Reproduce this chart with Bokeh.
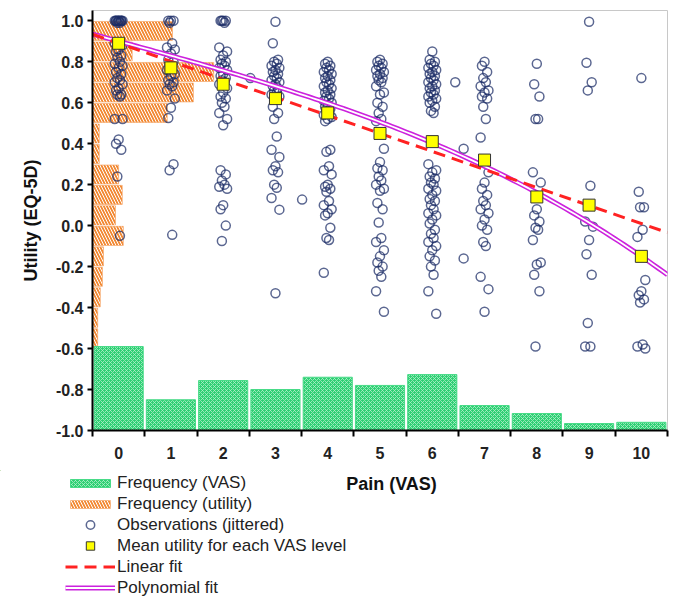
from bokeh.plotting import figure
from bokeh.layouts import column, row
from bokeh.models import (FixedTicker, PrintfTickFormatter, Legend, LegendItem,
                          ColumnDataSource, Range1d, Label)
from bokeh.embed import file_html
from bokeh.resources import INLINE
import numpy as np

# ---------------- data ----------------
vas_levels = [0, 1, 2, 3, 4, 5, 6, 7, 8, 9, 10]
# VAS frequency bars, drawn upward from utility = -1.0 (height in utility units)
vas_freq = [0.41, 0.15, 0.244, 0.20, 0.26, 0.22, 0.273, 0.122, 0.083, 0.034, 0.04]

# utility histogram bins (centres) and their bar lengths (in VAS units from the left edge)
util_bins = [0.95, 0.85, 0.75, 0.65, 0.55, 0.45, 0.35, 0.25, 0.15, 0.05,
             -0.05, -0.15, -0.25, -0.35, -0.45, -0.55]
util_freq = [1.53, 0.76, 2.32, 1.93, 1.43, 0.13, 0.13, 0.50, 0.57, 0.44,
             0.59, 0.21, 0.19, 0.15, 0.10, 0.10]

mean_utility = [0.89, 0.77, 0.69, 0.62, 0.55, 0.45, 0.41, 0.32, 0.14, 0.10, -0.15]

linear_coef = [0.89, -0.088]                    # intercept, slope
poly_coef = [0.90, -0.070, 0.0, -0.00035]       # a + b x + c x^2 + d x^3

obs_0 = [1.0, 1.0, 1.0, 1.0, 1.0, 1.0, 1.0, 1.0, 1.0, 1.0, 0.99, 0.99,
         0.89, 0.88, 0.86, 0.85, 0.83, 0.82, 0.80, 0.79, 0.78, 0.77, 0.75, 0.74,
         0.72, 0.71, 0.70, 0.69, 0.67, 0.66, 0.64, 0.64, 0.63, 0.52, 0.52, 0.42,
         0.40, 0.37, 0.24, -0.05]
obs_1 = [1.0, 1.0, 1.0, 0.99, 0.89, 0.87, 0.86, 0.84, 0.81, 0.80, 0.78, 0.77,
         0.76, 0.74, 0.73, 0.71, 0.70, 0.69, 0.68, 0.66, 0.62, 0.575, 0.525,
         0.30, 0.27, -0.045]
obs_2 = [1.0, 1.0, 1.0, 1.0, 0.99, 0.87, 0.85, 0.83, 0.81, 0.80, 0.79, 0.78,
         0.77, 0.76, 0.74, 0.73, 0.72, 0.71, 0.70, 0.69, 0.67, 0.65, 0.63, 0.62,
         0.60, 0.58, 0.55, 0.52, 0.49, 0.27, 0.25, 0.22, 0.20, 0.19, 0.18, 0.10,
         0.08, 0.0, -0.075]
obs_3 = [0.995, 0.89, 0.81, 0.80, 0.79, 0.78, 0.77, 0.76, 0.75, 0.74, 0.73,
         0.72, 0.71, 0.70, 0.69, 0.68, 0.67, 0.66, 0.65, 0.64, 0.63, 0.62, 0.58,
         0.55, 0.52, 0.435, 0.37, 0.335, 0.29, 0.27, 0.26, 0.20, 0.185, 0.135,
         0.078, -0.33]
obs_4 = [0.80, 0.79, 0.78, 0.77, 0.76, 0.75, 0.74, 0.73, 0.72, 0.71, 0.70,
         0.69, 0.68, 0.67, 0.66, 0.65, 0.64, 0.63, 0.62, 0.61, 0.60, 0.59, 0.58,
         0.57, 0.56, 0.55, 0.54, 0.53, 0.52, 0.51, 0.37, 0.36, 0.29, 0.27, 0.25,
         0.20, 0.19, 0.18, 0.165, 0.12, 0.10, 0.08, 0.06, 0.05, -0.01, -0.06,
         -0.07, -0.23]
obs_5 = [0.81, 0.80, 0.79, 0.78, 0.77, 0.76, 0.75, 0.74, 0.73, 0.72, 0.71,
         0.70, 0.68, 0.65, 0.64, 0.60, 0.58, 0.55, 0.52, 0.51, 0.375, 0.31,
         0.28, 0.27, 0.24, 0.22, 0.20, 0.18, 0.17, 0.11, 0.08, 0.015, -0.06,
         -0.08, -0.12, -0.15, -0.18, -0.20, -0.22, -0.25, -0.32, -0.42]
obs_6 = [0.85, 0.81, 0.80, 0.79, 0.78, 0.77, 0.76, 0.75, 0.74, 0.73, 0.72,
         0.71, 0.70, 0.69, 0.68, 0.67, 0.66, 0.65, 0.64, 0.63, 0.62, 0.61, 0.60,
         0.58, 0.56, 0.55, 0.30, 0.27, 0.26, 0.24, 0.23, 0.21, 0.20, 0.18, 0.17,
         0.15, 0.13, 0.12, 0.10, 0.08, 0.06, 0.05, 0.03, 0.01, -0.02, -0.04,
         -0.06, -0.08, -0.10, -0.12, -0.15, -0.17, -0.20, -0.24, -0.32, -0.43]
obs_7 = [0.80, 0.78, 0.75, 0.72, 0.70, 0.68, 0.66, 0.65, 0.63, 0.62, 0.58,
         0.52, 0.43, 0.26, 0.21, 0.18, 0.15, 0.12, 0.10, 0.08, 0.06, 0.03, 0.0,
         -0.02, -0.08, -0.10, -0.25, -0.31, -0.42]
obs_8 = [0.79, 0.69, 0.63, 0.52, 0.52, 0.26, 0.21, 0.08, 0.05, 0.02, -0.01,
         -0.02, -0.07, -0.18, -0.19, -0.24, -0.32, -0.59]
obs_9 = [0.995, 0.795, 0.70, 0.66, 0.195, 0.02, -0.005, -0.07, -0.14, -0.24,
         -0.475, -0.59, -0.59]
obs_10 = [0.72, 0.165, 0.09, 0.09, -0.02, -0.055, -0.265, -0.32, -0.34, -0.36,
          -0.375, -0.58, -0.59, -0.60]
# observations at non-integer VAS values
extra_vas = [2.52, 3.51, 6.44, 6.60, 6.60]
extra_util = [0.72, 0.127, 0.70, 0.375, -0.16]

obs_by_level = [obs_0, obs_1, obs_2, obs_3, obs_4, obs_5, obs_6, obs_7, obs_8, obs_9, obs_10]
jitter_pattern = [0.0, -0.05, 0.05, -0.025, 0.025, -0.075, 0.075]

legend_labels = ["Frequency (VAS)", "Frequency (utility)", "Observations (jittered)",
                 "Mean utility for each VAS level", "Linear fit", "Polynomial fit"]

# ---------------- styles ----------------
FONT = "Liberation Sans"
UTIL_STYLE = dict(fill_color="#f28a35", line_color="#f5a060", line_width=0.5,
                  hatch_pattern="\\", hatch_color="white", hatch_scale=6, hatch_weight=1.0)
VAS_STYLE = dict(fill_color="#2fcf74", line_color="#49db88", line_width=1,
                 hatch_pattern="x", hatch_color="#aef0c9", hatch_scale=4, hatch_weight=0.8)
OBS_STYLE = dict(marker="circle", size=9, fill_color=None, line_color="#1c2d66",
                 line_alpha=0.72, line_width=1.5)
MEAN_STYLE = dict(marker="square", size=12, fill_color="#ffff00", line_color="#333333",
                  line_width=1)
LIN_STYLE = dict(line_color="#ff2222", line_width=3, line_dash="12 7")
POLY_OUT = dict(line_color="#cc22dd", line_width=5)
POLY_IN = dict(line_color="white", line_width=1.8)

# ---------------- main figure ----------------
p = figure(width=677, height=470, x_range=(-0.5, 10.5), y_range=(-1.0, 1.05),
           output_backend="svg", toolbar_location=None,
           min_border_left=92, min_border_right=10, min_border_top=10, min_border_bottom=40)
p.background_fill_color = "white"
p.border_fill_color = "white"
p.outline_line_color = "#c8c8c8"
p.outline_line_width = 1
p.xgrid.visible = False
p.ygrid.visible = False

usrc = ColumnDataSource(dict(y=util_bins, right=[-0.5 + f for f in util_freq]))
p.hbar(y="y", left=-0.5, right="right", height=0.093, source=usrc, **UTIL_STYLE)

vsrc = ColumnDataSource(dict(x=vas_levels, top=[-1.0 + f for f in vas_freq]))
p.vbar(x="x", bottom=-1.0, top="top", width=0.94, source=vsrc, **VAS_STYLE)

ox, oy = [], []
for lvl, vals in zip(vas_levels, obs_by_level):
    for i, v in enumerate(vals):
        ox.append(lvl + jitter_pattern[i % len(jitter_pattern)])
        oy.append(v)
ox += extra_vas
oy += extra_util
p.scatter(ox, oy, **OBS_STYLE)

xs = np.linspace(-0.5, 10.5, 120)
lin = linear_coef[0] + linear_coef[1] * xs
poly = poly_coef[0] + poly_coef[1] * xs + poly_coef[2] * xs ** 2 + poly_coef[3] * xs ** 3
p.line(xs, poly, **POLY_OUT)
p.line(xs, poly, **POLY_IN)
p.line([xs[0], xs[-1]], [lin[0], lin[-1]], **LIN_STYLE)
p.scatter(vas_levels, mean_utility, **MEAN_STYLE)

p.xaxis.ticker = FixedTicker(ticks=vas_levels, minor_ticks=[i - 0.5 for i in range(12)])
p.xaxis.major_tick_line_color = None
p.xaxis.minor_tick_line_color = "black"
p.xaxis.minor_tick_line_width = 2
p.xaxis.minor_tick_out = 6
p.xaxis.minor_tick_in = 0
p.xaxis.major_label_standoff = 10

y_ticks = [-1.0, -0.8, -0.6, -0.4, -0.2, 0.0, 0.2, 0.4, 0.6, 0.8, 1.0]
p.yaxis.ticker = FixedTicker(ticks=y_ticks, minor_ticks=[])
p.yaxis.formatter = PrintfTickFormatter(format="%.1f")
p.yaxis.major_tick_line_width = 2
p.yaxis.major_tick_out = 5
p.yaxis.major_tick_in = 0
p.yaxis.major_label_standoff = 4
p.yaxis.axis_label = "Utility (EQ-5D)"
p.yaxis.axis_label_standoff = 12

for ax in (p.xaxis, p.yaxis):
    ax.axis_line_color = "black"
    ax.axis_line_width = 2
    ax.major_label_text_font = FONT
    ax.major_label_text_font_style = "bold"
    ax.major_label_text_font_size = "16px"
    ax.major_label_text_color = "#222222"
    ax.axis_label_text_font = FONT
    ax.axis_label_text_font_style = "bold"
    ax.axis_label_text_font_size = "18px"
    ax.axis_label_text_color = "#111111"

# ---------------- legend strip (second figure) ----------------
p2 = figure(width=677, height=130, x_range=Range1d(0, 677), y_range=Range1d(130, 0),
            output_backend="svg", toolbar_location=None,
            x_axis_type=None, y_axis_type=None,
            min_border_left=0, min_border_right=0, min_border_top=0, min_border_bottom=0)
p2.outline_line_color = None
p2.xgrid.visible = False
p2.ygrid.visible = False
p2.background_fill_color = "white"
p2.border_fill_color = "white"

# stand-in renderers (kept off-screen) that give the legend its glyphs
off = [-1000]
d_vas = p2.vbar(x=off, top=off, bottom=off, width=1, **VAS_STYLE)
d_util = p2.hbar(y=off, left=off, right=off, height=1, **UTIL_STYLE)
d_obs = p2.scatter(off, off, **OBS_STYLE)
d_mean = p2.scatter(off, off, **MEAN_STYLE)
d_lin = p2.line(off * 2, off * 2, **LIN_STYLE)
d_po = p2.line(off * 2, off * 2, **POLY_OUT)
d_pi = p2.line(off * 2, off * 2, **POLY_IN)

def style_legend(lg):
    lg.background_fill_alpha = 0
    lg.border_line_color = None
    lg.padding = 0
    lg.margin = 0
    lg.label_standoff = 2
    lg.glyph_width = 50
    lg.label_text_font = FONT
    lg.label_text_font_size = "17px"
    lg.label_text_color = "#222222"

leg_a = Legend(items=[LegendItem(label=legend_labels[0], renderers=[d_vas]),
                      LegendItem(label=legend_labels[1], renderers=[d_util])],
               location=(65, 86), orientation="vertical")
style_legend(leg_a)
leg_a.glyph_height = 10
leg_a.label_height = 10
leg_a.spacing = 1

leg_b = Legend(items=[LegendItem(label=legend_labels[2], renderers=[d_obs]),
                      LegendItem(label=legend_labels[3], renderers=[d_mean]),
                      LegendItem(label=legend_labels[4], renderers=[d_lin]),
                      LegendItem(label=legend_labels[5], renderers=[d_po, d_pi])],
               location=(65, 2), orientation="vertical")
style_legend(leg_b)
leg_b.glyph_height = 21
leg_b.label_height = 21
leg_b.spacing = 0

p2.add_layout(leg_a, "center")
p2.add_layout(leg_b, "center")

p2.add_layout(Label(x=391, y=13, text="Pain (VAS)", text_align="center",
                    text_baseline="middle", text_font=FONT, text_font_style="bold",
                    text_font_size="18px", text_color="#111111"))

layout = column(p, row(p2), spacing=0)
open("out.html", "w").write(file_html(layout, INLINE))
